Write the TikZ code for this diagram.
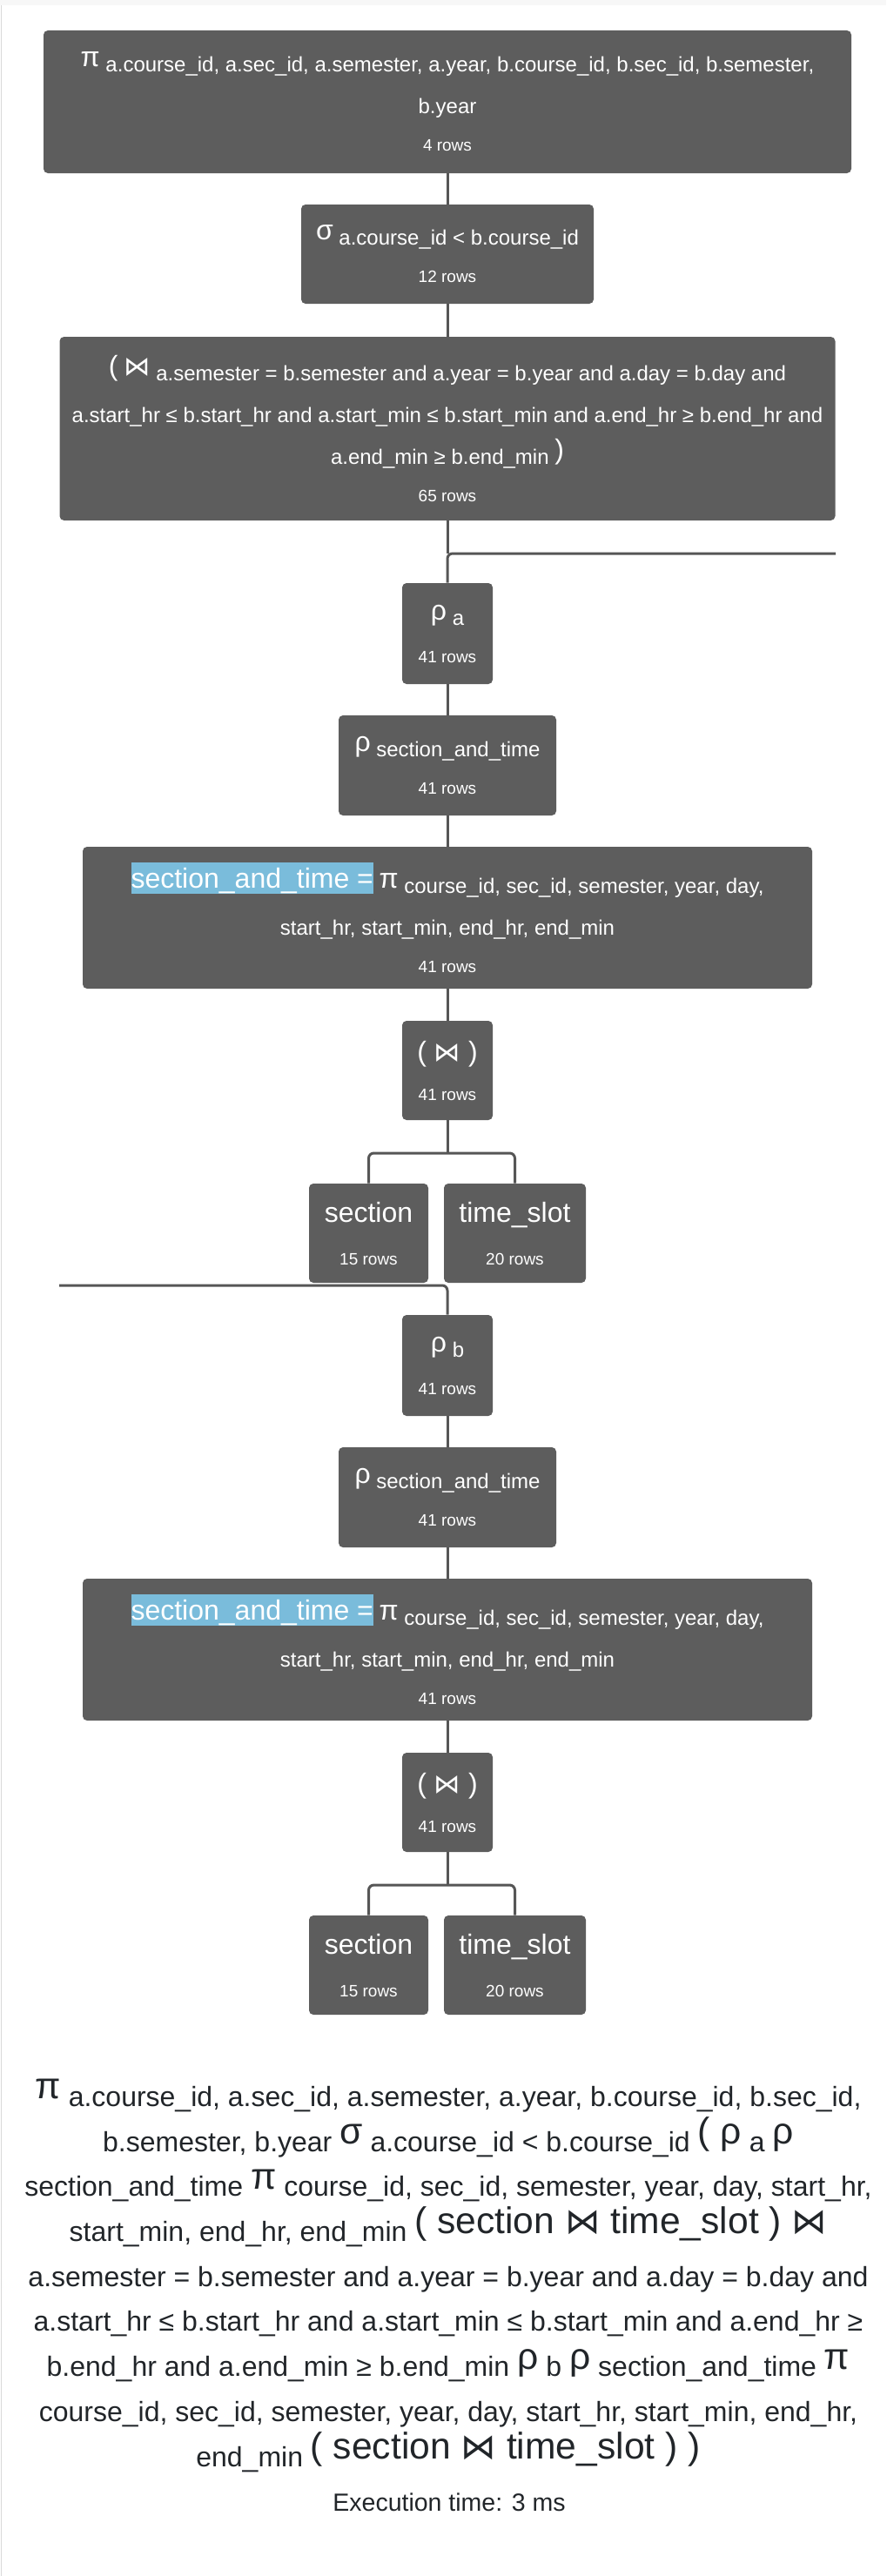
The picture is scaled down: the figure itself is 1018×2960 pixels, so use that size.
\documentclass[tikz,border=0pt]{standalone}
\usepackage{fontspec}
\setmainfont{Liberation Sans}
\newfontfamily\bowfont{DejaVu Sans}
\usepackage{xcolor}
\definecolor{opgray}{HTML}{5D5D5D}
\definecolor{wiregray}{HTML}{565656}
\definecolor{hlblue}{HTML}{7ABCDB}
\definecolor{exprtext}{HTML}{212529}
\lineskiplimit=-100pt
\newcommand{\bow}{{\bowfont\scalebox{0.95}{⋈}}}
\newcommand{\op}[1]{\raisebox{3pt}{\fontsize{16pt}{16pt}\selectfont #1}}
\newcommand{\bop}[1]{\raisebox{4.3pt}{\fontsize{21.3pt}{21.3pt}\selectfont #1}}
\newcommand{\rowsline}[2][-2.5pt]{\\[#1]{\fontsize{9.5pt}{12pt}\selectfont #2 rows}}
\newcommand{\hilite}[1]{\op{\setlength{\fboxsep}{0pt}\colorbox{hlblue}{\rule[-3.5pt]{0pt}{18pt}#1}}}

\begin{document}
\begin{tikzpicture}[x=0.5pt, y=-0.5pt,
  op/.style={fill=opgray, text=white, rounded corners=2.5pt, align=center, inner sep=0pt,
    font=\fontsize{12pt}{24pt}\selectfont},
  leaf/.style={op, font=\fontsize{16pt}{24pt}\selectfont},
  dims/.style 2 args={minimum width=#1*0.5pt, minimum height=#2*0.5pt},
  wire/.style={draw=wiregray, line width=1.5pt, rounded corners=3pt},
  expr/.style={text=exprtext, align=center, inner sep=0pt, font=\fontsize{16pt}{25.85pt}\selectfont}]
\useasboundingbox (0,0) rectangle (1018,2960);
\fill[gray!6] (0,0) rectangle (1018,6);
\draw[gray!30, line width=0.75pt] (1.5,6) -- (1.5,2960);

\node[op, dims={928}{164}] (proj) at (514,117)
  {\op{π} a.course\_id, a.sec\_id, a.semester, a.year, b.course\_id, b.sec\_id, b.semester,\\ b.year\rowsline{4}};
\node[op, dims={336}{114}] (sel) at (514,292)
  {\op{σ} a.course\_id < b.course\_id\rowsline{12}};
\node[op, dims={891}{211}] (thetajoin) at (514,492.5)
  {\op{(} \op{\bow} a.semester = b.semester and a.year = b.year and a.day = b.day and\\
   a.start\_hr ≤ b.start\_hr and a.start\_min ≤ b.start\_min and a.end\_hr ≥ b.end\_hr and\\
   a.end\_min ≥ b.end\_min \op{)}\rowsline{65}};
\coordinate (fork) at (514,636);
\coordinate (splitr) at (960,636);
\coordinate (splitl) at (68,1477);

\draw[wire] (proj) -- (sel);
\draw[wire] (sel) -- (thetajoin);
\draw[wire] (thetajoin) -- (fork);

% the two copies of section_and_time
\foreach \alias/\dy in {a/0, b/841} {
  \begin{scope}[shift={(0,\dy)}]
    \node[op, dims={104}{116}] (rho\alias) at (514,728) {\op{ρ} \alias\rowsline{41}};
    \node[op, dims={250}{115}] (ren\alias) at (514,879.5) {\op{ρ} section\_and\_time\rowsline{41}};
    \node[op, dims={838}{163}] (def\alias) at (514,1054.5)
      {\hilite{section\_and\_time =} \op{π} course\_id, sec\_id, semester, year, day,\\
       start\_hr, start\_min, end\_hr, end\_min\rowsline{41}};
    \node[op, dims={104}{114}] (nat\alias) at (514,1230)
      {{\fontsize{16pt}{16pt}\selectfont ( \bow\ )}\rowsline[-1.5pt]{41}};
    \node[leaf, dims={137}{114}] (sec\alias) at (423.5,1417) {section\rowsline[0.5pt]{15}};
    \node[leaf, dims={163}{114}] (slot\alias) at (591.5,1417) {time\_slot\rowsline[0.5pt]{20}};
    \coordinate (fork\alias) at (514,1325);
    \draw[wire] (rho\alias) -- (ren\alias);
    \draw[wire] (ren\alias) -- (def\alias);
    \draw[wire] (def\alias) -- (nat\alias);
    \draw[wire] (nat\alias) -- (fork\alias);
    \draw[wire] (sec\alias.north) |- (fork\alias) -| (slot\alias.north);
  \end{scope}
}
\draw[wire] (splitr) -| (rhoa.north);
\draw[wire] (splitl) -| (rhob.north);

\node[expr, anchor=base] (expr) at (515,2834)
  {\bop{π} a.course\_id, a.sec\_id, a.semester, a.year, b.course\_id, b.sec\_id,\\
   b.semester, b.year \bop{σ} a.course\_id < b.course\_id \bop{( ρ} a \bop{ρ}\\
   section\_and\_time \bop{π} course\_id, sec\_id, semester, year, day, start\_hr,\\
   start\_min, end\_hr, end\_min \bop{( section \bow\ time\_slot ) \bow}\\
   a.semester = b.semester and a.year = b.year and a.day = b.day and\\
   a.start\_hr ≤ b.start\_hr and a.start\_min ≤ b.start\_min and a.end\_hr ≥\\
   b.end\_hr and a.end\_min ≥ b.end\_min \bop{ρ} b \bop{ρ} section\_and\_time \bop{π}\\
   course\_id, sec\_id, semester, year, day, start\_hr, start\_min, end\_hr,\\
   end\_min \bop{( section \bow\ time\_slot ) )}};
\node[text=exprtext, inner sep=0pt, anchor=base, font=\fontsize{14.25pt}{16pt}\selectfont]
  (exectime) at (516,2885) {Execution time: 3 ms};
\end{tikzpicture}
\end{document}
